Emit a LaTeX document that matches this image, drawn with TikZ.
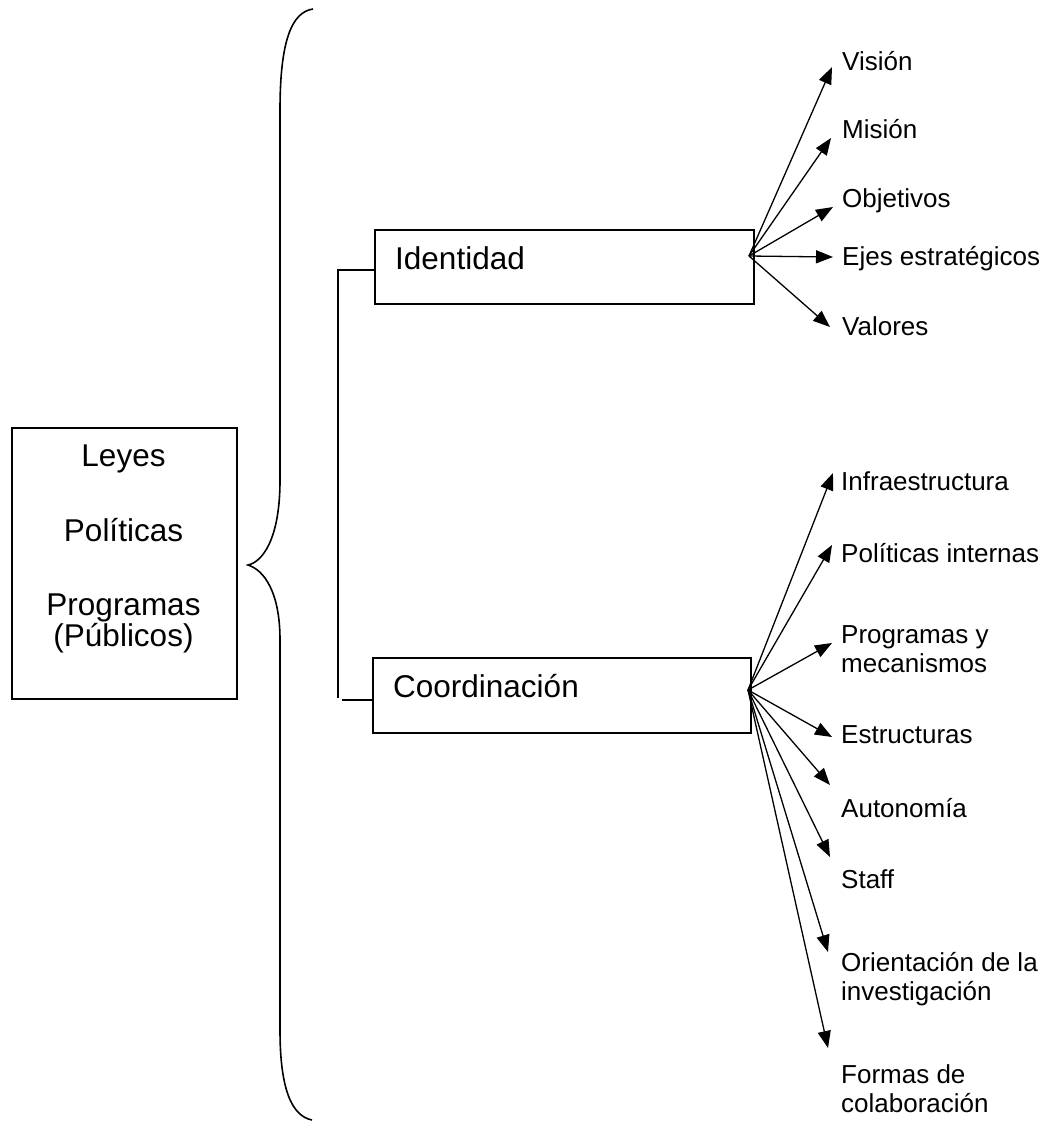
\documentclass[tikz,border=0pt]{standalone}
\usepackage{fontspec}
\setmainfont{Liberation Sans}
\usetikzlibrary{arrows.meta}
\begin{document}
\begin{tikzpicture}[x=1pt,y=-1pt,
  boxframe/.style={draw,line width=1.6pt,rectangle,inner sep=0pt,anchor=north west},
  bigtxt/.style={font=\fontsize{31.5}{36}\selectfont,inner sep=0pt},
  smalltxt/.style={font=\fontsize{26}{30}\selectfont,inner sep=0pt,anchor=base west},
  arr/.style={line width=1.3pt,-{Triangle[length=17pt,width=13pt]}},
  linkline/.style={line width=1.4pt}]
\useasboundingbox (0,0) rectangle (1050,1122);

% left box with its four lines
\node[boxframe,minimum width=225pt,minimum height=271pt] (src) at (11,427) {};
\node[bigtxt,anchor=base] (t1) at (123.5,466) {Leyes};
\node[bigtxt,anchor=base] (t2) at (123.5,541) {Políticas};
\node[bigtxt,anchor=base] (t3) at (123.5,615) {Programas};
\node[bigtxt,anchor=base] (t4) at (123.5,646) {(Públicos)};

% curly brace
\draw[line width=1.6pt] (313,9) .. controls (292,12) and (280,40) .. (280,110)
  -- (280,480) .. controls (280,540) and (262,562) .. (248,565)
  .. controls (264,570) and (280,592) .. (280,640)
  -- (280,1030) .. controls (280,1090) and (292,1116) .. (312,1120);

% two branch boxes
\node[boxframe,minimum width=379pt,minimum height=74pt] (ident) at (374,229) {};
\node[bigtxt,anchor=base west] (identtxt) at (395,269) {Identidad};
\node[boxframe,minimum width=378pt,minimum height=75pt] (coord) at (372,657) {};
\node[bigtxt,anchor=base west] (coordtxt) at (393,697) {Coordinación};

% bracket joining the two boxes
\coordinate (jt) at (338,270);
\coordinate (jb) at (338,698);
\coordinate (jc) at (342,700);
\draw[linkline] (jb) -- (jt) -- (jt -| ident.west);
\draw[linkline] (jc) -- (jc -| coord.west);

% fan of arrows from Identidad
\coordinate (io) at (749,256);
\foreach \name/\tx/\ty/\base/\txt in {
  vis/832/67/70/Visión,
  mis/831/138/138/Misión,
  obj/833/207/207/Objetivos,
  eje/833/257/265/Ejes estratégicos,
  val/830/327/335/Valores}{
  \coordinate (\name) at (\tx,\ty);
  \draw[arr] (io) -- (\name);
  \node[smalltxt] (\name txt) at (842,\base) {\txt};
}

% fan of arrows from Coordinación
\coordinate (co) at (748,690);
\foreach \name/\tx/\ty in {
  inf/833/473, pol/832/545, pro/832/643, est/832/737,
  aut/830/785, sta/830/857, ori/828/952, for/828/1048}{
  \coordinate (\name) at (\tx,\ty);
  \draw[arr] (co) -- (\name);
}
\node[smalltxt] (inftxt) at (841,490) {Infraestructura};
\node[smalltxt] (poltxt) at (841,562) {Políticas internas};
\node[smalltxt] (protxt) at (841,643) {Programas y};
\node[smalltxt] (protxtb) at (841,672) {mecanismos};
\node[smalltxt] (esttxt) at (841,743) {Estructuras};
\node[smalltxt] (auttxt) at (841,817) {Autonomía};
\node[smalltxt] (statxt) at (841,888) {Staff};
\node[smalltxt] (oritxt) at (841,971) {Orientación de la};
\node[smalltxt] (oritxtb) at (841,1000) {investigación};
\node[smalltxt] (fortxt) at (841,1083) {Formas de};
\node[smalltxt] (fortxtb) at (841,1112) {colaboración};
\end{tikzpicture}
\end{document}
